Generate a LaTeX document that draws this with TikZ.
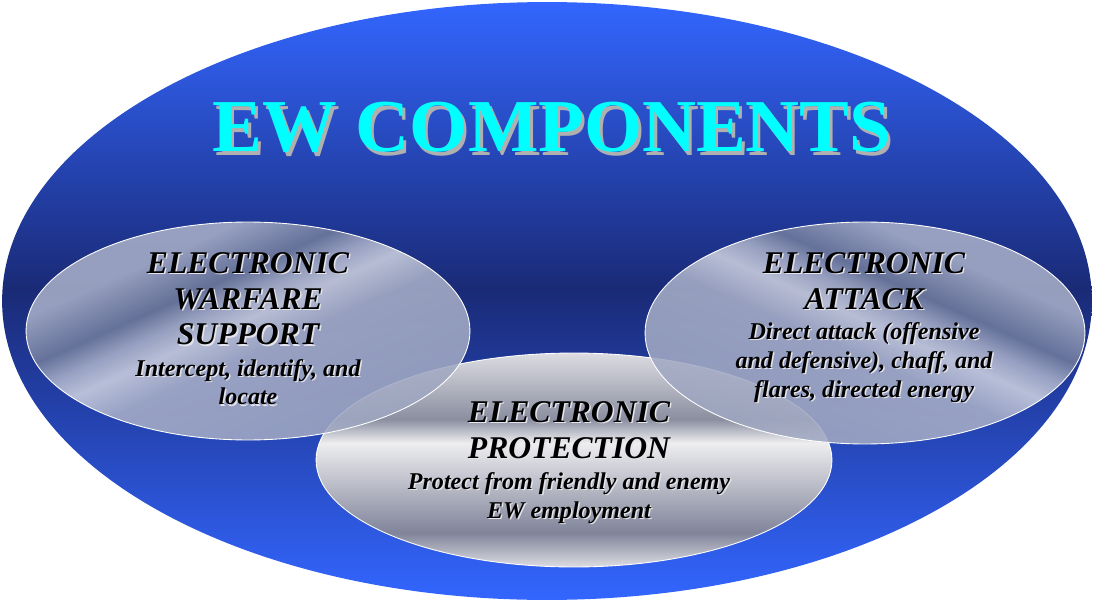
\documentclass[tikz,border=0pt]{standalone}
\usepackage{fontspec}
\setmainfont{Liberation Serif}
\usetikzlibrary{positioning}

\definecolor{ewblue}{RGB}{51,102,255}
\definecolor{ewnavy}{RGB}{26,42,118}
\definecolor{ewcyan}{RGB}{0,255,255}
\definecolor{ewgrey}{RGB}{176,176,176}
\definecolor{ewglow}{RGB}{228,228,234}
\definecolor{bandA}{RGB}{168,175,200}
\definecolor{bandB}{RGB}{111,122,156}
\definecolor{bandC}{RGB}{205,209,224}
\definecolor{bandD}{RGB}{158,166,192}
\definecolor{steelA}{RGB}{220,220,226}
\definecolor{steelB}{RGB}{138,142,160}
\definecolor{steelC}{RGB}{238,238,240}
\definecolor{steelD}{RGB}{180,182,194}
\definecolor{steelE}{RGB}{128,132,154}

% backgrounds
\pgfdeclareverticalshading{ewsky}{100bp}{color(0bp)=(ewblue); color(25bp)=(ewblue);
  color(51bp)=(ewnavy); color(75bp)=(ewblue); color(100bp)=(ewblue)}
\pgfdeclareverticalshading{ewband}{100bp}{color(0bp)=(bandD); color(25bp)=(bandD);
  color(46bp)=(bandA); color(52bp)=(bandC); color(56bp)=(bandA); color(60bp)=(bandB);
  color(68bp)=(bandA); color(100bp)=(bandA)}
\pgfdeclareverticalshading{ewsteel}{100bp}{color(0bp)=(steelA); color(25bp)=(steelA);
  color(33bp)=(steelE); color(43bp)=(steelD); color(54bp)=(steelC); color(59.5bp)=(steelB);
  color(75bp)=(steelA); color(100bp)=(steelA)}

\tikzset{%
  ewtitle/.style = {font=\fontsize{42.5}{48}\selectfont\bfseries, inner sep=0pt},%
  ewhead/.style  = {font=\fontsize{18}{20.4}\selectfont\bfseries\itshape,%
                    align=center, inner sep=0pt, anchor=north},%
  ewbody/.style  = {font=\fontsize{13.7}{16.4}\selectfont\bfseries\itshape,%
                    align=center, inner sep=0pt},%
  component/.style = {draw=white, line width=0.5pt, shading=ewband, fill opacity=0.88}%
}

\begin{document}
\begin{tikzpicture}[x=0.02cm,y=-0.02cm]
	\useasboundingbox (0,0) rectangle (1094,601);
	\coordinate (ew) at (547,301);
	\coordinate (es) at (248,331);
	\coordinate (ea) at (865,333);
	\coordinate (ep) at (574,460);
	% outer field
	\shade[shading=ewsky] (ew) ellipse [x radius=10.9cm, y radius=5.98cm];
	% the three components
	\shade[draw=white, line width=0.5pt, shading=ewsteel] (ep) ellipse [x radius=5.16cm, y radius=2.14cm];
	\shade[component, shading angle=24] (es) ellipse [x radius=4.44cm, y radius=2.18cm];
	\shade[component, shading angle=-24] (ea) ellipse [x radius=4.4cm, y radius=2.22cm];
	% title
	\node[ewtitle, text=ewgrey, anchor=base] (title-shadow) at (555,155) {EW COMPONENTS};
	\node[ewtitle, text=ewcyan, anchor=base] (title) at (552,152) {EW COMPONENTS};
	% texts, glow first
	\foreach \off/\ink in {1.5/ewglow, 0/black}{
		\begin{scope}[shift={(\off,\off)}, text=\ink]
			\node[ewhead] (es-head) at (248,252) {ELECTRONIC\\WARFARE\\SUPPORT};
			\node[ewbody, below=7.5pt of es-head] (es-body) {Intercept, identify, and\\locate};
			\node[ewhead] (ea-head) at (864,252) {ELECTRONIC\\ATTACK};
			\node[ewbody, below=7pt of ea-head] (ea-body)
				{Direct attack (offensive\\and defensive), chaff, and\\flares, directed energy};
			\node[ewhead] (ep-head) at (569,401) {ELECTRONIC\\PROTECTION};
			\node[ewbody, below=7.5pt of ep-head] (ep-body)
				{Protect from friendly and enemy\\EW employment};
		\end{scope}
	}
\end{tikzpicture}
\end{document}
